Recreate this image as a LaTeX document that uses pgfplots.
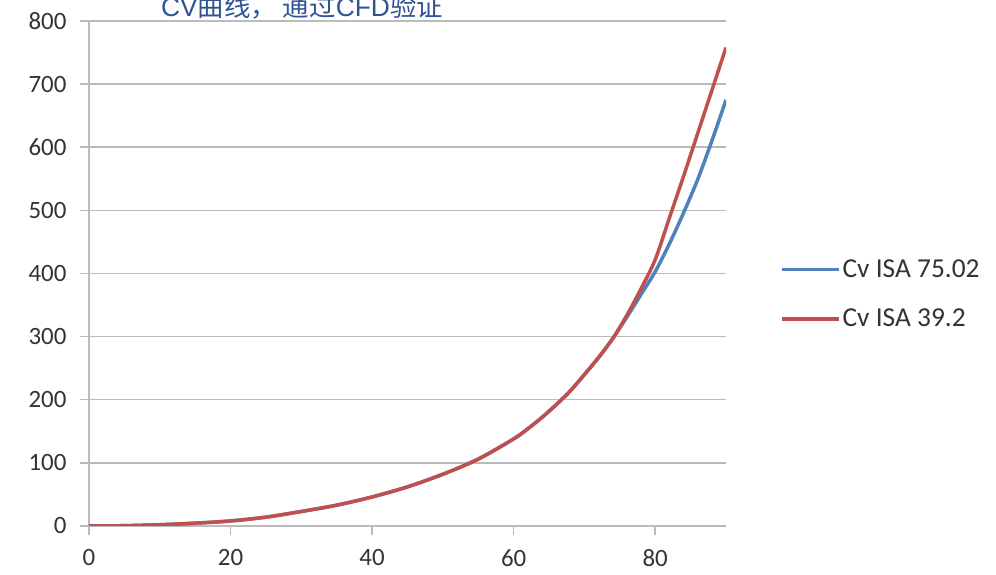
\documentclass[border=0pt]{standalone}
\usepackage{fontspec}
\usepackage{pgfplots}
\pgfplotsset{compat=1.18}
\setmainfont{Carlito}
\newfontfamily\cjk{Noto Sans CJK SC}
\newfontfamily\arial{Liberation Sans}
\definecolor{cvblue}{HTML}{4F81BD}
\definecolor{cvred}{HTML}{C0504D}
\definecolor{gridgray}{HTML}{BBBBBB}
\definecolor{titleblue}{HTML}{2F5496}

\begin{document}
\begin{tikzpicture}
\begin{axis}[
  name=main,
  scale only axis, width=637bp, height=505bp,
  xmin=0, xmax=90, ymin=0, ymax=800,
  axis lines=left,
  axis line style={-, draw=gridgray, line width=1.5bp},
  xtick={0,20,...,80}, ytick={0,100,...,800},
  ymajorgrids,
  grid style={draw=gridgray, line width=1.5bp},
  tick align=outside, major tick length=9bp,
  tick style={draw=gridgray, line width=1.5bp},
  ticklabel style={font=\fontsize{25}{30}\selectfont, text=black!80},
  yticklabel style={anchor=east, xshift=-10bp},
  xticklabel style={yshift=-11bp},
  /pgf/number format/assume math mode=true,
  legend style={at={(1.080,0.459)}, anchor=west, draw=none, fill=none,
    font=\fontsize{27.5}{32}\selectfont, text=black!80, row sep=26bp},
  legend cell align=left,
  legend image code/.code={\draw[#1] (0bp,0bp) -- (57bp,0bp);},
]
\addplot[cvblue, line width=3.5bp, smooth] coordinates {
(0,0) (5,0.5) (10,2) (15,4.5) (20,8) (25,14) (30,23) (35,33) (40,46) (45,62)
(50,82) (55,106) (60,138) (62,154) (64,172) (66,192) (68,214) (70,240)
(72,267) (74,297) (76,331) (78,367) (80,403) (82,447) (84,496) (86,549)
(88,610) (90,675)
};
\addlegendentry{Cv ISA 75.02}
\addplot[cvred, line width=3.5bp, smooth] coordinates {
(0,0) (5,0.5) (10,2) (15,4.5) (20,8) (25,14) (30,23) (35,33) (40,46) (45,62)
(50,82) (55,106) (60,138) (62,154) (64,172) (66,192) (68,214) (70,240)
(72,267) (74,297) (76,334) (78,376) (80,422) (82,488) (84,554) (86,622)
(88,690) (90,758)
};
\addlegendentry{Cv ISA 39.2}
\end{axis}
\node[anchor=base, text=titleblue, font=\fontsize{26.5}{30}\selectfont]
  at ([xshift=213bp, yshift=4bp]main.north west)
  {\arial CV\cjk 曲线，\ 通过\arial CFD\cjk 验证};
\pgfresetboundingbox
\path[use as bounding box] ([xshift=-89bp, yshift=-49bp]main.south west)
  rectangle ([xshift=270bp, yshift=21bp]main.north east);
\end{tikzpicture}
\end{document}
